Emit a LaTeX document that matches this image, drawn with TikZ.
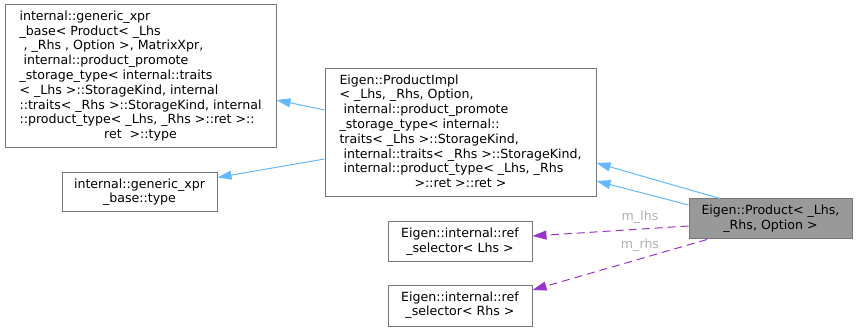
\documentclass[tikz,border=0pt]{standalone}
\usepackage{fontspec}
\setmainfont{DejaVu Sans}
\usetikzlibrary{arrows.meta,calc}
\definecolor{boxline}{HTML}{777777}
\definecolor{mainfill}{HTML}{999999}
\definecolor{inherit}{HTML}{63B8FF}
\definecolor{usage}{HTML}{9A32CD}
\definecolor{lbl}{HTML}{B0B0B0}
\newcommand{\us}{\_}
\begin{document}
\begin{tikzpicture}[x=1pt,y=-1pt,
  font=\fontsize{12.6}{14.8}\selectfont,
  cls/.style={draw=boxline,line width=1pt,fill=white,inner sep=0pt,
    minimum width=#1,anchor=center},
  mainbox/.style={draw=boxline,line width=1pt,fill=mainfill,inner sep=0pt,anchor=center},
  inh/.style={draw=inherit,line width=1pt,-{Triangle[length=14pt,width=9pt]}},
  use/.style={draw=usage,line width=1pt,dash pattern=on 8pt off 5pt,
    -{Triangle[length=14pt,width=9pt]}},
  elabel/.style={text=lbl,inner sep=0pt}]
\useasboundingbox (0,0) rectangle (857,331);

% classes
\node[cls=271pt,minimum height=143pt] (base) at (140.5,76.5) {\begin{tabular}{@{}l@{}}
internal::generic\us xpr\\
\us base< Product< \us Lhs\\
\ , \us Rhs , Option >, MatrixXpr,\\
\ internal::product\us promote\\
\us storage\us type< internal::traits\\
< \us Lhs >::StorageKind, internal\\
::traits< \us Rhs >::StorageKind, internal\\
::product\us type< \us Lhs, \us Rhs >::ret >::\\
\multicolumn{1}{@{}c@{}}{ret \ >::type}
\end{tabular}};

\node[cls=155pt,minimum height=39pt] (basetype) at (139.5,192.5) {\begin{tabular}{@{}c@{}}
internal::generic\us xpr\\
\us base::type
\end{tabular}};

\node[cls=271pt,minimum height=128pt] (impl) at (460.5,133) {\begin{tabular}{@{}l@{}}
Eigen::ProductImpl\\
< \us Lhs, \us Rhs, Option,\\
\ internal::product\us promote\\
\us storage\us type< internal::\\
traits< \us Lhs >::StorageKind,\\
\ internal::traits< \us Rhs >::StorageKind,\\
\ internal::product\us type< \us Lhs, \us Rhs\\
\multicolumn{1}{@{}c@{}}{>::ret >::ret >}
\end{tabular}};

\node[cls=144pt,minimum height=40pt] (lhs) at (460,242) {\begin{tabular}{@{}c@{}}
Eigen::internal::ref\\
\us selector< Lhs >
\end{tabular}};

\node[cls=144pt,minimum height=41pt] (rhs) at (460,305.5) {\begin{tabular}{@{}c@{}}
Eigen::internal::ref\\
\us selector< Rhs >
\end{tabular}};

\node[mainbox,minimum width=163pt,minimum height=40pt] (prod) at (770.5,219) {\begin{tabular}{@{}c@{}}
Eigen::Product< \us Lhs,\\
\us Rhs, Option >
\end{tabular}};

% inheritance
\draw[inh] ($(impl.west)+(0,-23)$) -- ($(base.east)+(0,23.5)$);
\draw[inh] ($(impl.west)+(0,26)$) -- ($(basetype.east)+(0,-15)$);
\draw[inh] ($(prod.north)+(-50.5,0)$) -- ($(impl.east)+(0,30)$);
\draw[inh] ($(prod.west)+(0,-14)$) -- ($(impl.east)+(0,48)$);

% members
\draw[use] ($(prod.west)+(0,7)$) -- ($(lhs.east)+(0,-6)$);
\draw[use] ($(prod.south)+(-63.5,0)$) -- ($(rhs.east)+(0,-15.5)$);
\node[elabel] (lhslabel) at (640,217) {m\us lhs};
\node[elabel] (rhslabel) at (640,245) {m\us rhs};
\end{tikzpicture}
\end{document}
